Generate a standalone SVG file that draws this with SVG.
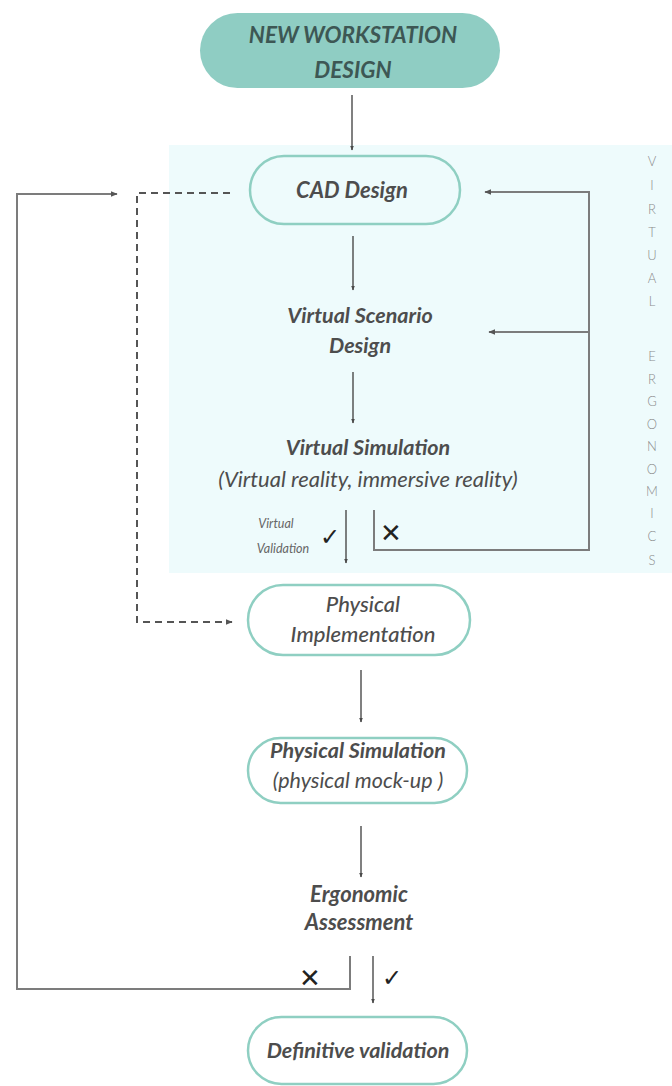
<svg xmlns="http://www.w3.org/2000/svg" width="672" height="1086" viewBox="0 0 672 1086">
  <style>
    .lbl { font-family: Lato, "Open Sans", "Liberation Sans", sans-serif; font-style: italic; fill: #4d4d4d; text-anchor: middle; }
    .b { font-weight: 700; }
    .pill { fill: #ffffff; stroke: #8fcfc2; stroke-width: 2.5; }
    .flow { stroke: #4a4a4a; stroke-width: 1.4; fill: none; marker-end: url(#ah); }
    .loop { stroke: #7c7c7c; stroke-width: 2; fill: none; }
    .dash { stroke: #555555; stroke-width: 2; fill: none; stroke-dasharray: 7 5; }
    .side { font-family: Lato, "Liberation Sans", sans-serif; font-weight: 300; font-size: 13px; fill: #8c8c8c; text-anchor: middle; }
    .mark { font-family: "DejaVu Sans", sans-serif; fill: #222222; text-anchor: middle; font-weight: 700; }
  </style>
  <defs>
    <marker id="ah" viewBox="0 0 10 10" refX="9" refY="5" markerWidth="5" markerHeight="5" orient="auto" markerUnits="userSpaceOnUse">
      <path d="M0,1 L10,5 L0,9 Z" fill="#4a4a4a"/>
    </marker>
    <marker id="ahg" viewBox="0 0 10 10" refX="9" refY="5" markerWidth="7" markerHeight="7" orient="auto" markerUnits="userSpaceOnUse">
      <path d="M0,1 L10,5 L0,9 Z" fill="#555555"/>
    </marker>
  </defs>

  <rect width="672" height="1086" fill="#ffffff"/>

  <!-- virtual ergonomics zone -->
  <g id="virtual-zone">
    <rect x="169" y="145" width="503" height="428" fill="#eefbfc"/>
    <g class="side">
      <text x="652" y="166">V</text>
      <text x="652" y="190">I</text>
      <text x="652" y="214">R</text>
      <text x="652" y="237">T</text>
      <text x="652" y="260">U</text>
      <text x="652" y="283">A</text>
      <text x="652" y="306">L</text>
      <text x="652" y="361">E</text>
      <text x="652" y="384">R</text>
      <text x="652" y="406">G</text>
      <text x="652" y="429">O</text>
      <text x="652" y="451">N</text>
      <text x="652" y="474">O</text>
      <text x="652" y="496">M</text>
      <text x="652" y="518">I</text>
      <text x="652" y="541">C</text>
      <text x="652" y="565">S</text>
    </g>
  </g>

  <!-- connectors -->
  <g id="connectors">
    <line class="flow" x1="352" y1="95" x2="352" y2="150"/>
    <line class="flow" x1="353" y1="236" x2="353" y2="290"/>
    <line class="flow" x1="353" y1="372" x2="353" y2="423"/>
    <line class="flow" x1="346" y1="510" x2="346" y2="563"/>
    <line class="flow" x1="361" y1="670" x2="361" y2="722"/>
    <line class="flow" x1="361" y1="826" x2="361" y2="877"/>
    <line class="flow" x1="373" y1="956" x2="373" y2="1003"/>

    <!-- virtual rejection loop -->
    <polyline class="loop" points="374,510 374,550 589,550 589,192 485,192" marker-end="url(#ahg)"/>
    <line class="loop" x1="589" y1="332" x2="489" y2="332" marker-end="url(#ahg)"/>

    <!-- physical rejection loop -->
    <polyline class="loop" points="350,956 350,989 17,989 17,194 117,194" marker-end="url(#ahg)"/>

    <!-- skip to physical implementation -->
    <polyline class="dash" points="230,193 137,193 137,622 232,622" marker-end="url(#ahg)"/>

    <text class="mark" x="330" y="545" font-size="24">✓</text>
    <text class="mark" x="391" y="542" font-size="26">✕</text>
    <text class="mark" x="310" y="987" font-size="26">✕</text>
    <text class="mark" x="392" y="986" font-size="24">✓</text>

    <text class="lbl" x="276" y="528" font-size="12.5" style="fill:#666666">Virtual</text>
    <text class="lbl" x="283" y="553" font-size="12.5" style="fill:#666666">Validation</text>
  </g>

  <g id="new-workstation">
    <rect x="200" y="13" width="300" height="75" rx="37.5" fill="#8fcdc3"/>
    <text class="lbl b" x="353" y="43" font-size="22.5" style="fill:#3d5754">NEW WORKSTATION</text>
    <text class="lbl b" x="353" y="78" font-size="22.5" style="fill:#3d5754">DESIGN</text>
  </g>

  <g id="cad-design">
    <rect class="pill" x="250" y="156" width="210" height="68" rx="34" style="fill:#eefbfc"/>
    <text class="lbl b" x="352" y="198" font-size="22">CAD Design</text>
  </g>

  <g id="virtual-scenario">
    <text class="lbl b" x="360" y="323" font-size="21.5">Virtual Scenario</text>
    <text class="lbl b" x="360" y="353" font-size="21.5">Design</text>
  </g>

  <g id="virtual-simulation">
    <text class="lbl b" x="368" y="455" font-size="21.5">Virtual Simulation</text>
    <text class="lbl" x="368" y="487" font-size="22">(Virtual reality, immersive reality)</text>
  </g>

  <g id="physical-implementation">
    <rect class="pill" x="248" y="585" width="222" height="70" rx="35"/>
    <text class="lbl" x="363" y="612" font-size="22" font-weight="500">Physical</text>
    <text class="lbl" x="363" y="642" font-size="22" font-weight="500">Implementation</text>
  </g>

  <g id="physical-simulation">
    <rect class="pill" x="248" y="738" width="219" height="65" rx="32.5"/>
    <text class="lbl b" x="358" y="758" font-size="21.5">Physical Simulation</text>
    <text class="lbl" x="358" y="788" font-size="21.5">(physical mock-up )</text>
  </g>

  <g id="ergonomic-assessment">
    <text class="lbl b" x="359" y="902" font-size="22">Ergonomic</text>
    <text class="lbl b" x="359" y="930" font-size="22">Assessment</text>
  </g>

  <g id="definitive-validation">
    <rect class="pill" x="248" y="1017" width="219" height="67" rx="33.5"/>
    <text class="lbl b" x="358" y="1058" font-size="21.5">Definitive validation</text>
  </g>
</svg>
